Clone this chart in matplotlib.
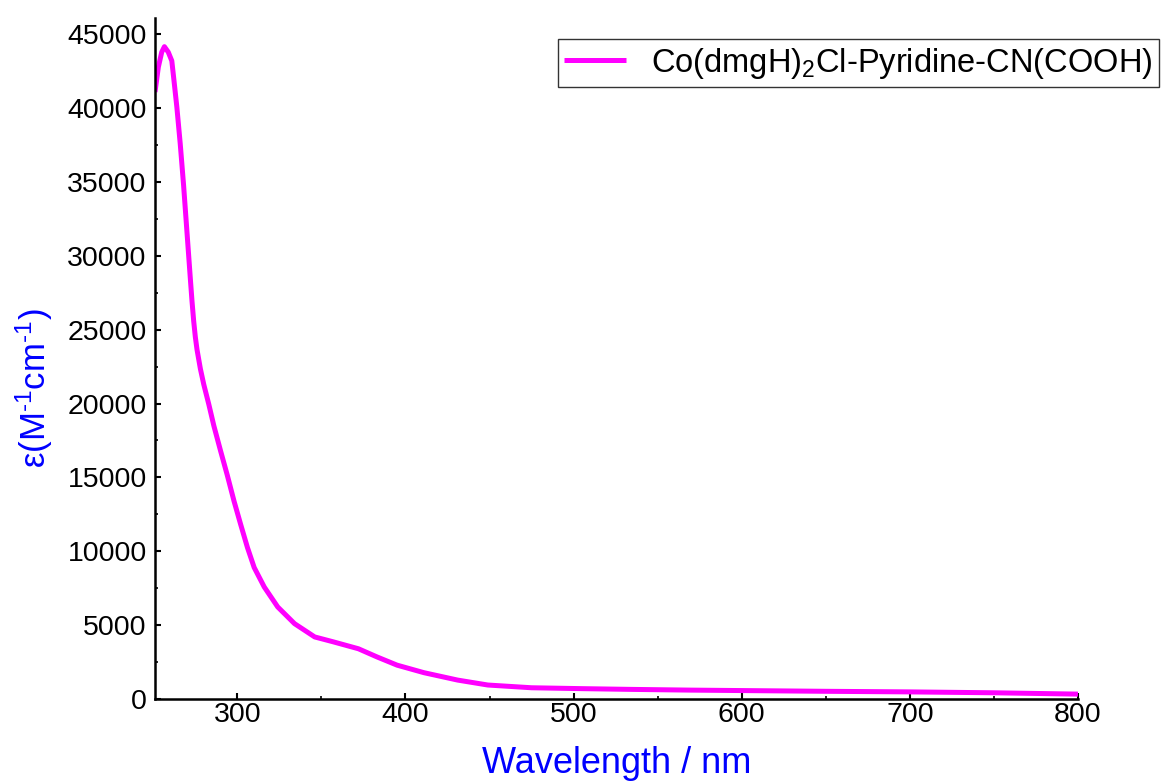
import matplotlib
matplotlib.use("Agg")
import matplotlib.pyplot as plt
from matplotlib.ticker import MultipleLocator

plt.rcParams['font.family'] = ['Liberation Sans', 'DejaVu Sans']
plt.rcParams['mathtext.fontset'] = 'custom'
plt.rcParams['mathtext.rm'] = 'Liberation Sans'
plt.rcParams['mathtext.it'] = 'Liberation Sans'
plt.rcParams['mathtext.bf'] = 'Liberation Sans'

# espectro UV-vis
longitud_onda = [251, 253, 255, 256.6, 258.9, 261, 262.3, 264, 266, 268, 270,
                 272, 273, 274, 275, 276, 278, 280, 283, 286, 290, 294, 298,
                 302, 306, 310, 316, 324, 334, 346, 357, 372, 383, 395, 411,
                 431, 449, 475, 505, 534, 570, 600, 650, 700, 750, 800]
epsilon = [41090, 42780, 43790, 44160, 43790, 43200, 41860, 40070, 37600,
           34790, 31640, 28490, 26950, 25600, 24500, 23650, 22350, 21300,
           19950, 18500, 16800, 15150, 13400, 11800, 10250, 8900, 7580, 6230,
           5100, 4200, 3870, 3400, 2850, 2290, 1780, 1280, 945, 760, 700, 650,
           600, 570, 520, 480, 420, 330]

etiqueta = r'Co(dmgH)$_2$Cl-Pyridine-CN(COOH)'

fig = plt.figure(figsize=(11.68, 7.83), dpi=100)
ax = fig.add_axes([0.1327, 0.1073, 0.7902, 0.8697])

ax.plot(longitud_onda, epsilon, color='#FF00FF', linewidth=3.6, label=etiqueta,
        solid_joinstyle='round', solid_capstyle='butt')

ax.set_xlim(251, 800)
ax.set_ylim(0, 46100)
ax.xaxis.set_major_locator(MultipleLocator(100))
ax.xaxis.set_minor_locator(MultipleLocator(50))
ax.yaxis.set_major_locator(MultipleLocator(5000))
ax.yaxis.set_minor_locator(MultipleLocator(2500))

for lado in ['top', 'right']:
    ax.spines[lado].set_visible(False)
for lado in ['left', 'bottom']:
    ax.spines[lado].set_linewidth(1.8)

ax.tick_params(which='major', direction='in', length=4, width=1.5,
               labelsize=20.5)
ax.tick_params(axis='x', which='major', pad=2)
ax.tick_params(axis='y', which='major', pad=6)
ax.tick_params(which='minor', direction='in', length=2.5, width=1.2)

ax.set_xlabel('Wavelength / nm', fontsize=26, color='blue', labelpad=13)
ax.set_ylabel(r'ε(M$^{\text{-}1}$cm$^{\text{-}1}$)', fontsize=25, color='blue')
ax.yaxis.set_label_coords(-0.108, 0.457)

ley = ax.legend(loc='upper right', bbox_to_anchor=(1.0878, 0.969), fontsize=23.5,
                frameon=True, fancybox=False, handlelength=1.9,
                borderpad=0.2, handletextpad=0.75, borderaxespad=0)
ley.get_frame().set_edgecolor('black')
ley.get_frame().set_linewidth(1.0)

fig.savefig('out.png', dpi=100)
